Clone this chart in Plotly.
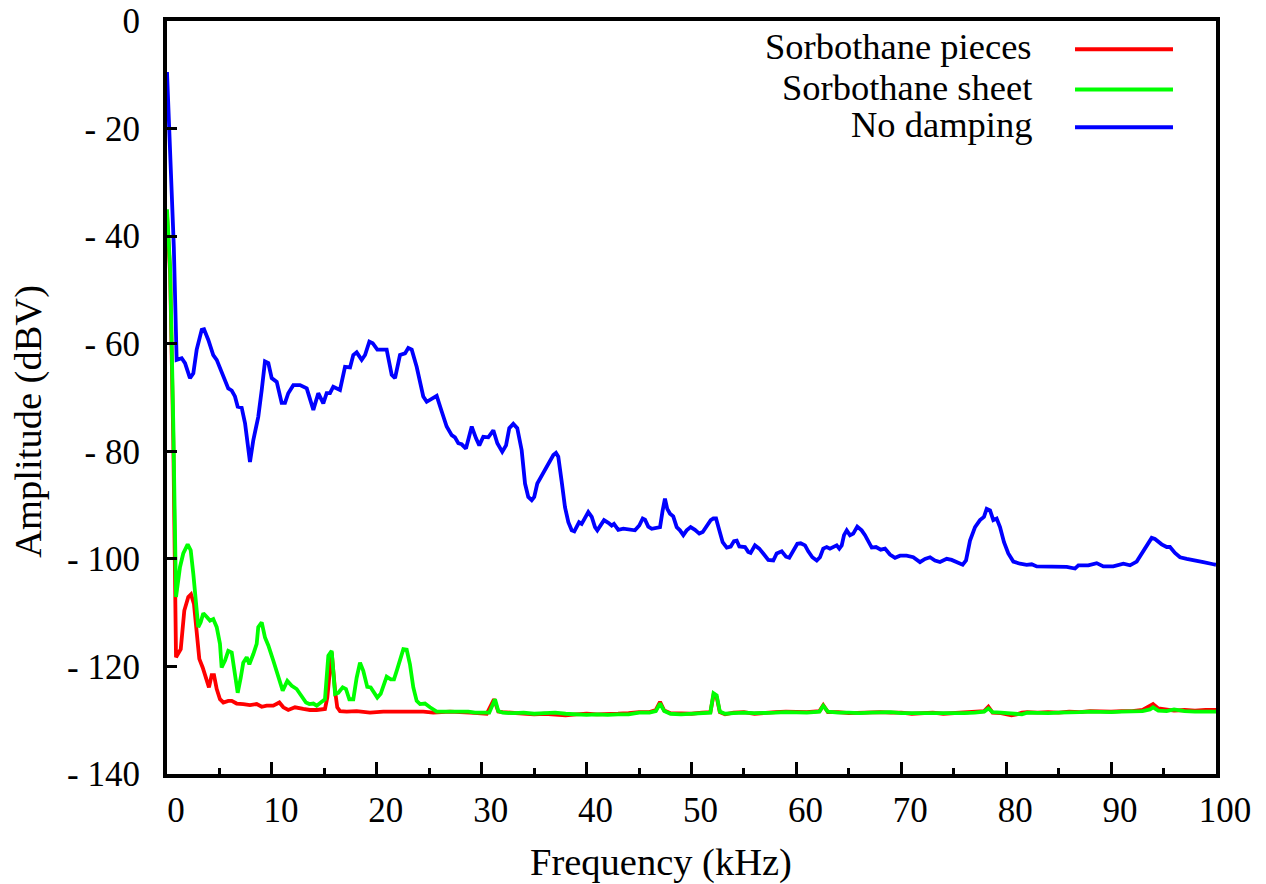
import plotly.graph_objects as go

# ---- data (frequency in kHz, amplitude in dBV) ----
pieces_f = [0.0, 0.3, 0.6, 0.86, 1.31, 1.65, 2.03, 2.29, 2.57, 2.83, 3.08, 3.40, 3.72, 4.00, 4.26, 4.48, 4.74,
            5.05, 5.37, 5.84, 6.17, 6.64, 7.27, 7.91, 8.55, 9.03, 9.50, 10.13, 10.71, 11.09, 11.56, 12.20,
            12.99, 13.63, 14.27, 15.06, 15.28, 15.70, 16.02, 16.23, 16.49, 17.13, 18.08, 19.35, 20.62, 21.90,
            23.16, 24.43, 25.39, 26.98, 28.88, 30.48, 31.17, 31.58,
            32, 33, 34, 35, 36, 37, 38, 39, 40, 41, 42, 43, 44, 45, 46, 46.6, 47.0, 47.4, 48, 49, 50, 51,
            51.8, 52.1, 52.4, 52.7, 53.2, 54, 55, 56, 57, 58, 59, 60, 61, 62.2, 62.56, 63.0, 64, 65, 66, 67,
            68, 69, 70, 71, 72, 73, 74, 75, 76, 77, 77.9, 78.3, 78.7, 79.5, 80.5, 81, 81.5, 82, 83, 84, 85,
            86, 87, 88, 89, 90, 91, 92, 93, 93.6, 94.0, 94.5, 95.3, 96, 97, 98, 99, 100]
pieces_db = [-36, -47, -78, -118.3, -116.8, -109.6, -107.1, -106.6, -108.4, -114.0, -118.6, -120.2, -122.1,
             -123.9, -121.6, -121.6, -124.2, -126.1, -126.7, -126.4, -126.4, -126.9, -127.0, -127.2, -127.0,
             -127.5, -127.3, -127.3, -126.7, -127.6, -128.1, -127.6, -127.9, -128.1, -128.1, -127.9, -125.8,
             -117.4, -124.5, -127.6, -128.3, -128.4, -128.3, -128.6, -128.4, -128.4, -128.3, -128.4, -128.6,
             -128.4, -128.6, -128.8, -126.1, -128.4,
             -128.5, -128.6, -128.7, -128.9, -128.8, -128.9, -129.1, -128.9, -128.8, -128.9, -128.9, -128.8,
             -128.7, -128.5, -128.5, -128.1, -126.6, -128.2, -128.7, -128.8, -128.8, -128.6, -128.5, -125.3,
             -125.7, -128.5, -128.9, -128.6, -128.5, -128.8, -128.6, -128.5, -128.4, -128.4, -128.5, -128.3,
             -127.2, -128.5, -128.5, -128.7, -128.6, -128.5, -128.5, -128.6, -128.6, -128.8, -128.7, -128.6,
             -128.8, -128.7, -128.6, -128.5, -128.3, -127.5, -128.6, -128.7, -129.1, -128.9, -128.6, -128.5,
             -128.6, -128.5, -128.6, -128.4, -128.5, -128.3, -128.4, -128.4, -128.3, -128.3, -128.1, -127.5,
             -127.0, -127.8, -128.1, -128.2, -128.1, -128.2, -128.1, -128.1]

sheet_f = [0.0, 0.3, 0.6, 0.86, 1.24, 1.55, 1.97, 2.26, 2.51, 2.83, 2.98, 3.21, 3.46, 3.84, 4.10, 4.41, 4.74,
           5.05, 5.21, 5.53, 5.84, 6.17, 6.48, 6.74, 7.03, 7.27, 7.60, 7.85, 8.23, 8.55, 8.70, 9.03, 9.34,
           9.66, 10.13, 10.61, 11.03, 11.47, 11.89, 12.36, 12.84, 13.25, 13.57, 13.95, 14.27, 14.65, 15.06,
           15.38, 15.70, 16.02, 16.33, 16.75, 17.06, 17.38, 17.76, 18.08, 18.40, 18.71, 19.09, 19.42, 19.73,
           20.05, 20.37, 20.62, 20.94, 21.33, 21.64, 21.95, 22.28, 22.53, 22.85, 23.16, 23.48, 23.80, 24.12,
           24.59, 25.07, 25.71, 26.34, 27.14, 27.93, 28.72, 29.36, 30.15, 30.72, 31.27, 31.58,
           32, 33, 34, 35, 36, 37, 38, 39, 40, 41, 42, 43, 44, 45, 46, 46.6, 47.0, 47.4, 48, 49, 50, 51,
           51.8, 52.1, 52.4, 52.7, 53.2, 54, 55, 56, 57, 58, 59, 60, 61, 62.2, 62.56, 63.0, 64, 65, 66, 67,
           68, 69, 70, 71, 72, 73, 74, 75, 76, 77, 77.9, 78.3, 78.7, 79.5, 80.5, 81.5, 82, 83, 84, 85, 86,
           87, 88, 89, 90, 91, 92, 93, 93.7, 94.0, 94.5, 95.3, 96, 97, 98, 99, 100]
sheet_db = [-35, -46, -75, -107.1, -101.5, -99.0, -97.3, -98.4, -102.8, -109.0, -112.7, -111.8, -110.1,
            -110.9, -111.5, -111.2, -112.7, -115.8, -120.2, -118.9, -117.1, -117.4, -121.7, -124.9, -122.1,
            -119.3, -118.3, -119.6, -117.7, -115.8, -112.7, -111.8, -114.6, -116.1, -118.9, -122.1, -124.5,
            -122.7, -123.6, -124.2, -125.5, -126.7, -127.0, -126.9, -127.3, -126.7, -126.1, -118.0, -117.1,
            -125.1, -124.9, -123.9, -124.2, -126.1, -126.1, -122.1, -119.3, -120.8, -123.8, -123.9, -124.9,
            -125.8, -125.1, -123.6, -121.9, -122.4, -122.4, -120.5, -118.0, -116.8, -116.9, -119.6, -123.9,
            -126.4, -127.0, -126.9, -127.6, -128.4, -128.4, -128.4, -128.4, -128.4, -128.6, -128.6, -128.6,
            -126.1, -128.3,
            -128.6, -128.7, -128.6, -128.8, -128.7, -128.6, -128.8, -128.9, -129.0, -128.9, -129.0, -128.9,
            -128.9, -128.6, -128.6, -128.3, -126.9, -128.3, -128.8, -128.9, -128.8, -128.7, -128.6, -125.0,
            -125.4, -128.4, -128.8, -128.7, -128.6, -128.7, -128.7, -128.6, -128.5, -128.5, -128.6, -128.4,
            -127.3, -128.4, -128.6, -128.6, -128.7, -128.6, -128.6, -128.5, -128.7, -128.7, -128.8, -128.7,
            -128.7, -128.8, -128.7, -128.6, -128.4, -127.8, -128.5, -128.6, -128.8, -128.9, -128.6, -128.7,
            -128.7, -128.6, -128.6, -128.5, -128.4, -128.5, -128.5, -128.4, -128.4, -128.3, -128.0, -127.6,
            -128.2, -128.3, -128.0, -128.3, -128.4, -128.4, -128.4]

nodamp_f = [0.0, 0.35, 0.65, 0.92, 1.40, 1.72, 2.19, 2.51, 2.83, 3.31, 3.53, 3.94, 4.41, 4.74, 5.21, 5.53,
            5.84, 6.17, 6.48, 6.74, 7.12, 7.44, 7.75, 7.91, 8.23, 8.70, 9.03, 9.34, 9.66, 9.98, 10.46, 10.93,
            11.25, 11.56, 12.04, 12.68, 13.32, 13.63, 13.95, 14.42, 14.90, 15.22, 15.54, 15.85, 16.49, 16.97,
            17.45, 17.76, 18.08, 18.56, 18.88, 19.29, 19.61, 20.05, 20.47, 20.94, 21.42, 21.74, 22.21, 22.69,
            23.00, 23.33, 23.80, 24.12, 24.43, 24.76, 25.23, 25.71, 26.19, 26.66, 27.14, 27.45, 27.77, 28.09,
            28.50, 29.05, 29.46, 29.77, 30.15, 30.63, 31.11, 31.49, 31.96, 32.32, 32.63, 33.01, 33.39, 33.81,
            34.13, 34.44, 34.77, 35.01, 35.30, 35.72, 36.13, 36.51, 36.83, 37.08, 37.30, 37.63, 37.94, 38.26,
            38.58, 38.83, 39.28, 39.53, 39.85, 40.16, 40.49, 40.80, 41.02, 41.34, 41.66, 42.07, 42.39, 42.61,
            43.02, 43.50, 43.98, 44.61, 45.02, 45.35, 45.57, 45.88, 46.21, 46.52, 47.00, 47.25, 47.47, 47.69,
            47.95, 48.26, 48.59, 48.90, 49.22, 49.54, 49.92, 50.33, 50.74, 51.07, 51.45, 51.83, 52.08, 52.34,
            52.65, 52.97, 53.36, 53.74, 54.05, 54.31, 54.56, 55.10, 55.41, 55.64, 56.05, 56.46, 56.84, 57.32,
            57.80, 58.12, 58.60, 59.01, 59.32, 59.70, 60.09, 60.41, 60.82, 61.13, 61.52, 61.94, 62.25, 62.56,
            62.89, 63.20, 63.58, 63.84, 64.09, 64.32, 64.54, 64.80, 65.11, 65.42, 65.80, 66.22, 66.54, 66.86,
            67.18, 67.59, 68.04, 68.45, 68.92, 69.40, 69.88, 70.51, 71.14, 71.78, 72.26, 72.74, 73.21, 73.69,
            74.33, 74.80, 75.44, 75.85, 76.17, 76.55, 77.03, 77.50, 77.88, 78.14, 78.46, 78.77, 79.09, 79.41,
            79.79, 80.20, 80.68, 81.32, 81.95, 82.43, 82.91, 83.86, 84.81, 85.77, 86.56, 86.88, 87.83, 88.63,
            89.26, 90.21, 91.17, 91.80, 92.44, 92.92, 93.39, 93.87, 94.18, 94.82, 95.30, 95.61, 96.09, 96.57,
            97.21, 97.82, 98.31, 98.79, 99.74, 100.0]
nodamp_db = [-9.5, -25, -42, -63.0, -62.7, -63.6, -66.4, -65.5, -61.1, -57.4, -57.3, -59.3, -62.1, -63.0,
             -65.2, -66.4, -68.3, -68.7, -69.8, -71.7, -71.9, -74.8, -79.5, -82.0, -77.9, -73.6, -68.6, -63.3,
             -63.6, -66.4, -67.1, -71.0, -71.0, -69.2, -67.7, -67.7, -68.3, -70.2, -72.3, -69.2, -71.1, -69.2,
             -69.2, -68.0, -68.6, -64.3, -64.4, -62.1, -61.6, -63.0, -62.1, -59.6, -59.9, -61.1, -61.1, -61.1,
             -65.8, -66.4, -62.1, -61.8, -60.8, -61.1, -64.3, -67.4, -69.8, -70.8, -70.2, -69.7, -72.6, -75.4,
             -77.0, -77.4, -78.5, -78.7, -79.5, -75.4, -77.6, -78.9, -77.3, -77.4, -76.1, -78.5, -80.1, -78.9,
             -75.7, -74.9, -75.7, -79.8, -86.0, -88.5, -89.1, -88.5, -86.0, -84.5, -83.2, -81.7, -80.7, -80.3,
             -81.0, -85.7, -90.4, -93.2, -94.7, -94.9, -93.2, -93.5, -92.2, -91.3, -92.2, -94.1, -94.7, -93.8,
             -92.8, -93.3, -93.8, -93.5, -94.6, -94.4, -94.6, -94.7, -93.8, -92.5, -92.7, -94.0, -94.4, -94.3,
             -94.1, -91.0, -88.8, -90.7, -91.6, -92.1, -94.1, -94.7, -95.6, -94.7, -94.1, -94.6, -95.3, -95.0,
             -93.8, -92.8, -92.5, -92.5, -94.7, -96.9, -97.9, -97.7, -96.7, -96.6, -97.7, -97.8, -98.7, -98.9,
             -97.5, -98.1, -99.0, -100.2, -100.3, -99.0, -98.6, -99.6, -99.8, -98.4, -97.2, -97.1, -97.5, -98.6,
             -99.7, -100.3, -99.7, -98.1, -97.8, -98.1, -97.8, -97.5, -98.1, -97.5, -95.6, -94.7, -95.6, -95.3,
             -94.0, -94.7, -95.6, -96.6, -97.9, -97.8, -98.3, -98.1, -99.2, -99.8, -99.4, -99.4, -99.7, -100.6,
             -100.0, -99.7, -100.3, -100.6, -100.0, -100.2, -100.8, -101.1, -100.3, -96.6, -94.1, -92.8, -92.2,
             -90.7, -91.0, -92.8, -92.5, -94.1, -96.9, -99.0, -100.5, -100.9, -101.1, -101.0, -101.4, -101.4,
             -101.5, -101.5, -101.8, -101.2, -101.2, -100.8, -101.4, -101.4, -100.9, -101.2, -100.5, -99.0,
             -97.5, -96.1, -96.3, -97.3, -97.8, -97.8, -98.9, -99.7, -100.0, -100.2, -100.3, -100.6, -101.0,
             -101.1]

series_names = ["Sorbothane pieces", "Sorbothane sheet", "No damping"]
series_colors = ["#ff0000", "#00ff00", "#0000ff"]

x_tickvals = [0, 10, 20, 30, 40, 50, 60, 70, 80, 90, 100]
y_tickvals = [0, -20, -40, -60, -80, -100, -120, -140]
y_ticktext = ["0", "- 20", "- 40", "- 60", "- 80", "- 100", "- 120", "- 140"]

FONT = "'Liberation Serif', 'DejaVu Serif', serif"
FS_TICK = 35
FS_TEXT = 38.5
FS_KEY = 36.5

fig = go.Figure()
for fx, fy, name, col in zip([pieces_f, sheet_f, nodamp_f], [pieces_db, sheet_db, nodamp_db],
                             series_names, series_colors):
    fig.add_trace(go.Scatter(x=fx, y=fy, mode="lines", name=name,
                             line=dict(color=col, width=3.8), showlegend=False))

# gnuplot-style key (text left, sample line right)
key_rows = [0.9655, 0.912, 0.862]
for name, col, yy in zip(series_names, series_colors, key_rows):
    fig.add_annotation(xref="paper", yref="paper", x=0.8265, y=yy, text=name, showarrow=False,
                       xanchor="right", yanchor="middle", font=dict(family=FONT, size=FS_KEY, color="black"))
    fig.add_shape(type="line", xref="paper", yref="paper", x0=0.8656, x1=0.959, y0=yy - 0.003, y1=yy - 0.003,
                  line=dict(color=col, width=4))

fig.add_annotation(xref="paper", yref="paper", x=0.471, y=-0.117, text="Frequency (kHz)", showarrow=False,
                   xanchor="center", yanchor="middle", font=dict(family=FONT, size=FS_TEXT, color="black"))
fig.add_annotation(xref="paper", yref="paper", x=-0.1317, y=0.469, text="Amplitude (dBV)", showarrow=False,
                   textangle=-90, xanchor="center", yanchor="middle",
                   font=dict(family=FONT, size=FS_TEXT, color="black"))

fig.update_layout(
    width=1266, height=884,
    margin=dict(l=167, r=50, t=21, b=110, autoexpand=False),
    paper_bgcolor="white", plot_bgcolor="white",
    font=dict(family=FONT, size=FS_TICK, color="black"),
)
fig.update_xaxes(range=[0, 100], tickvals=x_tickvals, ticks="inside", ticklen=12, tickwidth=3,
                 tickcolor="black", showgrid=False, zeroline=False, showline=True, linewidth=4,
                 linecolor="black", mirror=True, ticklabelstandoff=2, ticklabelshift=9, automargin=False,
                 minor=dict(dtick=5, ticks="inside", ticklen=6, tickwidth=3, tickcolor="black", showgrid=False),
                 tickfont=dict(family=FONT, size=FS_TICK))
fig.update_yaxes(range=[-140, 0], tickvals=y_tickvals, ticktext=y_ticktext, ticks="inside", ticklen=10,
                 tickwidth=3, tickcolor="black", showgrid=False, zeroline=False, showline=True, linewidth=4,
                 linecolor="black", mirror=True, ticklabelstandoff=16, automargin=False,
                 tickfont=dict(family=FONT, size=FS_TICK))

fig.write_html("out.html", config={"displayModeBar": False},
               post_script="document.body.style.margin='0px';")
